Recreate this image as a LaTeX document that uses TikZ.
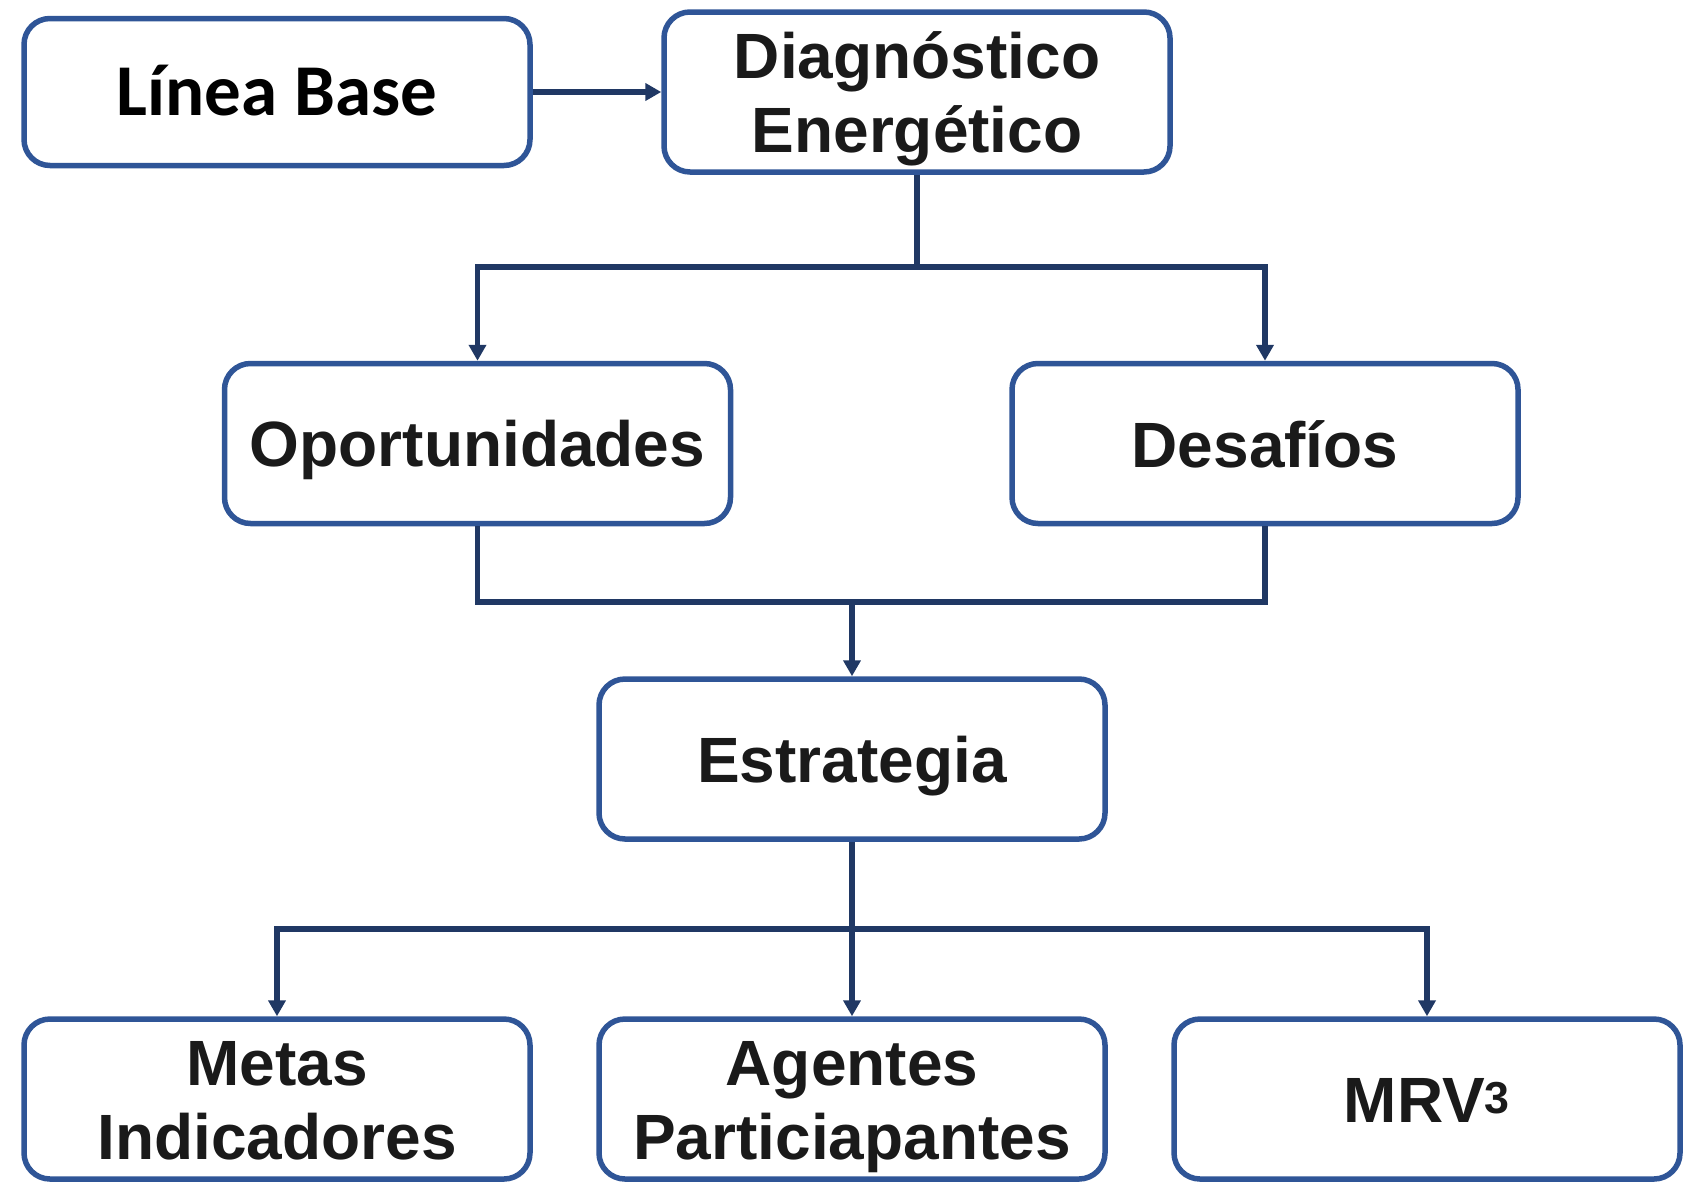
\documentclass[tikz,border=0pt]{standalone}
\usepackage{fontspec}
\setmainfont{Liberation Sans}
\newfontfamily\calibfont{Carlito}
\usepackage{xcolor}
\usetikzlibrary{arrows.meta}
\definecolor{boxblue}{RGB}{47,85,151}
\definecolor{linknavy}{RGB}{32,56,100}
\definecolor{inkgray}{RGB}{26,26,26}
\newcommand\boxfont{\fontsize{64}{73.5}\selectfont\bfseries}
\newcommand\ls{\rule[-13pt]{0pt}{73pt}}
\tikzstyle{stage}=[draw=boxblue,line width=5.5pt,rounded corners=26pt,fill=white,
  minimum width=506pt,minimum height=160pt,align=center,text=inkgray,font=\boxfont,
  execute at begin node=\ls]
\tikzstyle{pairstage}=[stage,text height=133.5pt,text depth=13pt]
\tikzstyle{link}=[draw=linknavy,line width=5.5pt]
\tikzstyle{linkar}=[link,-{Triangle[length=16pt,width=17pt]}]
\begin{document}
\begin{tikzpicture}[x=1pt,y=-1pt]
  \useasboundingbox (0,0) rectangle (1694,1181);
  \node[stage,minimum height=147pt,text=black,font=\calibfont\fontsize{73}{80}\selectfont\bfseries] (linea) at (277,92) {Línea Base};
  \node[pairstage] (diag)    at (917,92)    {Diagnóstico\\Energético};
  \node[stage] (oport)   at (477.5,443.5) {Oportunidades};
  \node[stage] (desaf)   at (1265,443.5)  {Desafíos};
  \node[stage] (estr)    at (852,759)   {Estrategia};
  \node[pairstage] (metas)   at (277,1099)  {Metas\\Indicadores};
  \node[pairstage] (agentes) at (852,1099)  {Agentes\\Particiapantes};
  \node[stage] (mrv)     at (1427,1099) {MRV\textsuperscript{3}};
  \coordinate (split) at (917,267);
  \coordinate (join)  at (852,602);
  \coordinate (fan)   at (852,929);
  \draw[linkar] (linea) -- (diag);
  \draw[link]   (diag.south) -- (split);
  \draw[linkar] (split) -| (oport.north);
  \draw[linkar] (split) -| (desaf.north);
  \draw[link]   (oport.south) |- (join) -| (desaf.south);
  \draw[linkar] (join) -- (estr.north);
  \draw[linkar] (estr.south) -- (agentes.north);
  \draw[linkar] (fan) -| (metas.north);
  \draw[linkar] (fan) -| (mrv.north);
\end{tikzpicture}
\end{document}
